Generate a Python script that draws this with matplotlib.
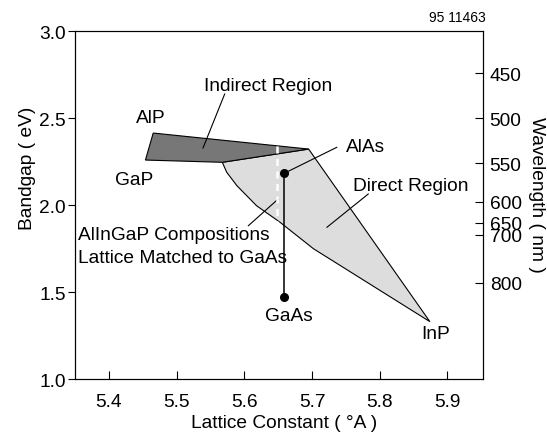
import numpy as np
import matplotlib.pyplot as plt

plt.rcParams['font.family'] = ['Liberation Sans', 'DejaVu Sans']
plt.rcParams['font.size'] = 13.8

# polygon corners (lattice constant, bandgap)
indirect_x = [5.4655, 5.454, 5.5675, 5.695]
indirect_y = [2.414, 2.259, 2.246, 2.322]

direct_x = [5.5675, 5.574, 5.589, 5.618, 5.653, 5.702, 5.874, 5.695]
direct_y = [2.246, 2.189, 2.112, 1.997, 1.901, 1.750, 1.331, 2.322]

gaas_x = 5.659
gaas_y = [1.471, 2.183]
matched_x = 5.649
matched_y = [2.34, 1.90]

wavelengths = [450, 500, 550, 600, 650, 700, 800]
wavelength_ev = [2.757, 2.50, 2.24, 2.02, 1.90, 1.83, 1.555]

x_ticks = [5.4, 5.5, 5.6, 5.7, 5.8, 5.9]
y_ticks = [1.0, 1.5, 2.0, 2.5, 3.0]

W, H = 547, 435
fig = plt.figure(figsize=(W / 100, H / 100), dpi=100)
ax = fig.add_axes([75 / W, 1 - 380.3 / H, 407.7 / W, 348.3 / H])

ax.fill(direct_x, direct_y, facecolor='#dddddd', edgecolor='black', linewidth=0.8, zorder=1)
ax.fill(indirect_x, indirect_y, facecolor='#777777', edgecolor='black', linewidth=0.8, zorder=2)
ax.plot([matched_x, matched_x], matched_y, color='white', linewidth=1.8,
        dashes=(2.8, 2.2), zorder=3)
ax.plot([gaas_x, gaas_x], gaas_y, color='black', linewidth=1.1, zorder=4)
ax.plot([gaas_x, gaas_x], gaas_y, 'o', color='black', markersize=5.5, zorder=5)

# leader lines
ax.plot([5.571, 5.539], [2.638, 2.328], color='black', linewidth=0.8)
ax.plot([gaas_x, 5.7365], [gaas_y[1], 2.332], color='black', linewidth=0.8)
ax.plot([5.783, 5.722], [2.064, 1.873], color='black', linewidth=0.8)
ax.plot([5.606, 5.650], [1.882, 2.035], color='black', linewidth=0.8)

ax.text(5.6357, 2.663, 'Indirect Region', ha='center', va='baseline')
ax.text(5.4613, 2.4757, 'AlP', ha='center', va='baseline')
ax.text(5.438, 2.1215, 'GaP', ha='center', va='baseline')
ax.text(5.7795, 2.3127, 'AlAs', ha='center', va='baseline')
ax.text(5.7611, 2.0887, 'Direct Region', ha='left', va='baseline')
ax.text(5.3542, 1.8056, 'AlInGaP Compositions', ha='left', va='baseline')
ax.text(5.3542, 1.6735, 'Lattice Matched to GaAs', ha='left', va='baseline')
ax.text(5.6656, 1.339, 'GaAs', ha='center', va='baseline')
ax.text(5.883, 1.237, 'InP', ha='center', va='baseline')

ax.set_xlim(5.35, 5.952)
ax.set_ylim(1.0, 3.0)
ax.set_xticks(x_ticks)
ax.set_yticks(y_ticks)
ax.set_xticklabels(['%.1f' % t for t in x_ticks])
ax.set_yticklabels(['%.1f' % t for t in y_ticks])
ax.tick_params(axis='x', direction='in', length=5.5, width=0.8, pad=10)
ax.tick_params(axis='y', direction='out', length=5, width=0.8, pad=1.5)
for t in [ax.yaxis.get_major_ticks()[0], ax.yaxis.get_major_ticks()[-1]]:
    t.tick1line.set_visible(False)
for s in ax.spines.values():
    s.set_linewidth(0.8)

ax2 = ax.twinx()
ax2.set_ylim(1.0, 3.0)
ax2.set_yticks(wavelength_ev)
ax2.set_yticklabels([str(w) for w in wavelengths])
ax2.tick_params(axis='y', direction='in', length=5.5, width=0.8, pad=5)
for s in ax2.spines.values():
    s.set_linewidth(0.8)

fig.text(284 / W, 1 - 428 / H, 'Lattice Constant ( °A )', ha='center', va='baseline')
fig.text(28 / W, 1 - 168 / H, 'Bandgap ( eV)', rotation=90, ha='center', va='center')
fig.text(536 / W, 1 - 195 / H, 'Wavelength ( nm )', rotation=-90, ha='center', va='center')
fig.text(486 / W, 1 - 22.5 / H, '95 11463', ha='right', va='baseline', fontsize=10)

fig.savefig('out.png', dpi=100)
